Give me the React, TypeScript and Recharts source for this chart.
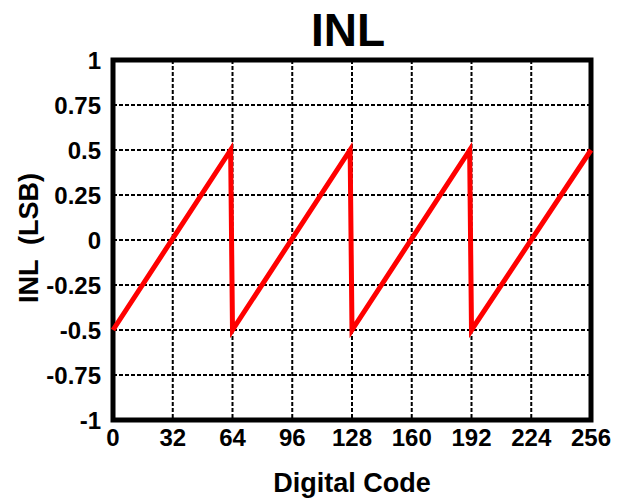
import { LineChart, Line, XAxis, YAxis, CartesianGrid, ReferenceArea, Label } from "recharts"

const codes = [0, 63, 64, 127, 128, 191, 192, 256]
const inl = [-0.5, 0.5, -0.5, 0.5, -0.5, 0.5, -0.5, 0.5]
const xTicks = [0, 32, 64, 96, 128, 160, 192, 224, 256]
const yTicks = [-1, -0.75, -0.5, -0.25, 0, 0.25, 0.5, 0.75, 1]

const data = codes.map((code, i) => ({ code, inl: inl[i] }))

const font = "'Liberation Sans', Arial, sans-serif"

export default function App() {
	return (
		<div style={{ position: "absolute", left: 0, top: 0, width: 620, height: 498, background: "#fff" }}>
			<LineChart width={620} height={498} data={data} margin={{ top: 60, right: 29, left: 0, bottom: 0 }}>
				<CartesianGrid stroke="#000" strokeWidth={2} strokeDasharray="4 2" />
				<XAxis
					dataKey="code"
					type="number"
					domain={[0, 256]}
					ticks={xTicks}
					height={78}
					axisLine={false}
					tickLine={false}
					tickMargin={3}
					tick={{ fontSize: 24, fontWeight: 700, fill: "#000", fontFamily: font }}
				>
					<Label value="Digital Code" position="insideBottom" offset={6} style={{ fontSize: 27, fontWeight: 700, fill: "#000", fontFamily: font }} />
				</XAxis>
				<YAxis
					type="number"
					domain={[-1, 1]}
					ticks={yTicks}
					width={113}
					axisLine={false}
					tickLine={false}
					tickMargin={6}
					tick={{ fontSize: 24, fontWeight: 700, fill: "#000", fontFamily: font }}
				>
					<Label
						content={() => (
							<text x={29} y={238} transform="rotate(-90 29 238)" textAnchor="middle" dominantBaseline="central" style={{ whiteSpace: "pre", fontSize: 27, fontWeight: 700, fill: "#000", fontFamily: font }}>
								INL  (LSB)
							</text>
						)}
					/>
				</YAxis>
				<ReferenceArea x1={0} x2={256} y1={-1} y2={1} fill="none" stroke="#000" strokeWidth={5} />
				<Line dataKey="inl" stroke="#ff0000" strokeWidth={5} dot={false} isAnimationActive={false} />
				<text x={348} y={46} textAnchor="middle" style={{ fontSize: 46, fontWeight: 700, fill: "#000", fontFamily: font }}>
					INL
				</text>
			</LineChart>
		</div>
	)
}
